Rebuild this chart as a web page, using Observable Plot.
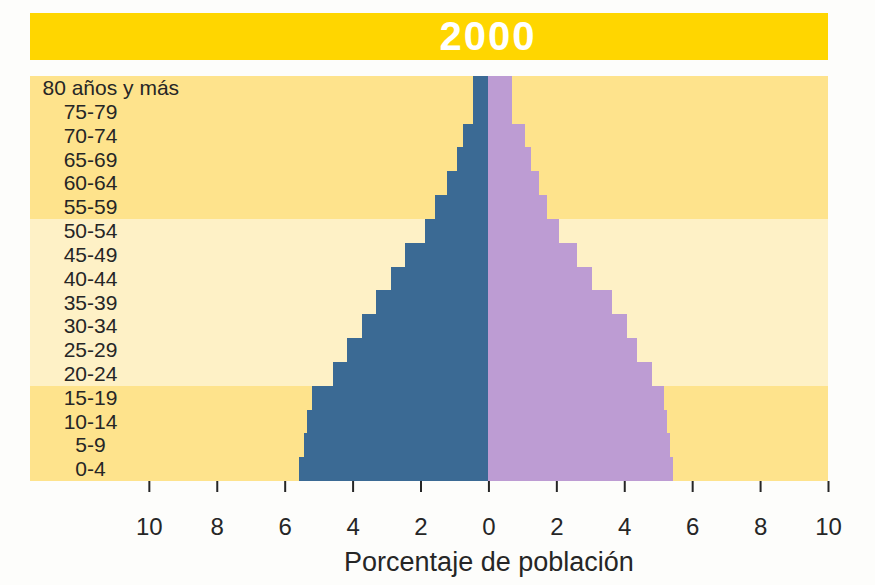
<!DOCTYPE html>
<html>
<head>
<meta charset="utf-8">
<script src="https://cdn.jsdelivr.net/npm/d3@7"></script>
<script src="https://cdn.jsdelivr.net/npm/@observablehq/plot@0.6"></script>
<style>
  html, body { margin: 0; padding: 0; background: #fdfdfb; }
  #titulo {
    box-sizing: border-box;
    margin: 13px 0 0 30px;
    width: 798px;
    height: 47px;
    background: #ffd600;
    color: #ffffff;
    font-family: "Liberation Sans", Arial, sans-serif;
    font-weight: bold;
    font-size: 40px;
    letter-spacing: 2px;
    line-height: 47px;
    text-align: center;
    padding-left: 118px;
  }
  #chart svg { display: block; }
</style>
</head>
<body>
<div id="titulo">2000</div>
<div id="chart"></div>
<script>
// Datos (porcentaje de población, año 2000)
const edades = ["80 años y más", "75-79", "70-74", "65-69", "60-64", "55-59", "50-54",
  "45-49", "40-44", "35-39", "30-34", "25-29", "20-24", "15-19", "10-14", "5-9", "0-4"];
const hombres = [0.45, 0.45, 0.74, 0.92, 1.21, 1.56, 1.88, 2.47, 2.88, 3.32, 3.71, 4.16, 4.58, 5.19, 5.35, 5.43, 5.58];
const mujeres = [0.70, 0.70, 1.07, 1.24, 1.48, 1.73, 2.07, 2.61, 3.05, 3.64, 4.08, 4.37, 4.81, 5.16, 5.25, 5.35, 5.45];
const franjas = ["a", "a", "a", "a", "a", "a", "b", "b", "b", "b", "b", "b", "b", "a", "a", "a", "a"];
const xTicks = [-10, -8, -6, -4, -2, 0, 2, 4, 6, 8, 10];
const xDominio = [-13.5, 10];
const etiquetaX = "Porcentaje de población";

const datos = edades.map((edad, i) => ({
  edad, hombres: hombres[i], mujeres: mujeres[i], franja: franjas[i]
}));

const colorTexto = "#262626";

const chart = Plot.plot({
  width: 875,
  height: 525,
  marginTop: 16,
  marginBottom: 104,
  marginLeft: 30,
  marginRight: 47,
  style: { fontFamily: "'Liberation Sans', Arial, sans-serif", background: "transparent", color: colorTexto },
  x: { domain: xDominio, axis: null },
  y: { domain: edades, padding: 0, round: false, axis: null },
  color: { domain: ["a", "b"], range: ["#fee38c", "#fef1c6"] },
  marks: [
    Plot.cell(datos, { y: "edad", fill: "franja", inset: 0, shapeRendering: "crispEdges" }),
    Plot.barX(datos, { y: "edad", x1: 0, x2: d => -d.hombres, fill: "#3b6a94", inset: 0, shapeRendering: "crispEdges" }),
    Plot.barX(datos, { y: "edad", x1: 0, x2: "mujeres", fill: "#bd9cd3", inset: 0, shapeRendering: "crispEdges" }),
    Plot.axisX({
      ticks: xTicks,
      tickFormat: d => Math.abs(d),
      tickSize: 11,
      tickPadding: 25,
      fontSize: 24,
      strokeWidth: 2,
      stroke: colorTexto,
      fill: colorTexto,
      label: null
    }),
    Plot.text(datos.slice(1), {
      y: "edad", text: "edad", frameAnchor: "left", dx: 60,
      textAnchor: "middle", fontSize: 21, fill: colorTexto,
      style: "letter-spacing:0.6px"
    }),
    Plot.text(datos.slice(0, 1), {
      y: "edad", text: "edad", frameAnchor: "left", dx: 12,
      textAnchor: "start", fontSize: 21, fill: colorTexto
    }),
    Plot.text([etiquetaX], {
      x: 0, text: d => d, frameAnchor: "bottom", lineAnchor: "bottom",
      dy: 89, fontSize: 27, fill: colorTexto
    })
  ]
});

document.getElementById("chart").appendChild(chart);
</script>
</body>
</html>
